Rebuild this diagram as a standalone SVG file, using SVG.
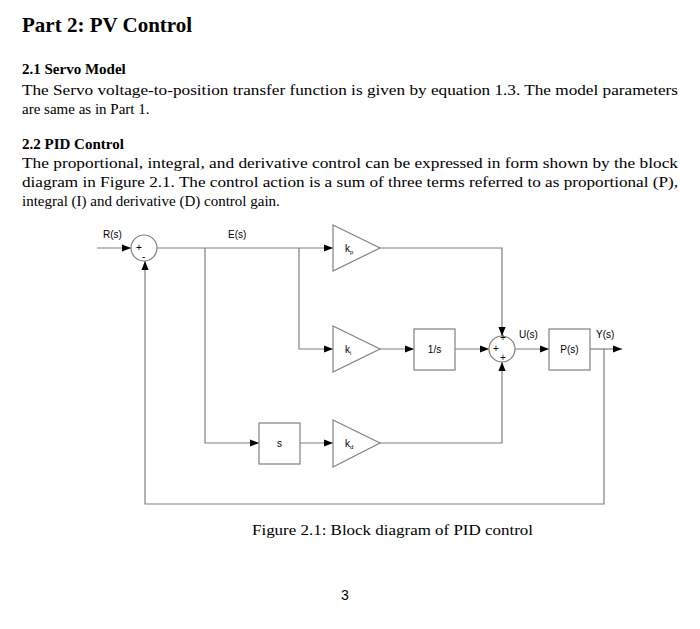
<svg xmlns="http://www.w3.org/2000/svg" width="700" height="629" viewBox="0 0 700 629">
<defs>
<marker id="a" viewBox="0 0 10 10" refX="10" refY="5" markerWidth="9" markerHeight="9" markerUnits="userSpaceOnUse" orient="auto"><path d="M0,1 L10,5 L0,9 z" fill="#000"/></marker>
</defs>
<style>
.t{font-family:"Liberation Serif",serif;fill:#000}
.h{font-weight:bold}
.d{font-family:"Liberation Sans",Arial,sans-serif;font-size:10px;fill:#000}
.s{fill:#fff;stroke:#808080;stroke-width:1.2}
.c path{fill:none;stroke:#808080;stroke-width:1.2}
</style>
<rect width="700" height="629" fill="#fff"/>
<text class="t h" x="22" y="32" font-size="21">Part 2:  PV Control</text>
<text class="t h" x="22" y="74" font-size="15">2.1 Servo Model</text>
<text class="t" x="22" y="95" font-size="15" textLength="656" lengthAdjust="spacingAndGlyphs">The Servo voltage-to-position transfer function is given by equation 1.3. The model parameters</text>
<text class="t" x="22" y="114" font-size="15">are same as in Part 1.</text>
<text class="t h" x="22" y="149" font-size="15">2.2 PID Control</text>
<text class="t" x="22" y="168" font-size="15" textLength="656" lengthAdjust="spacingAndGlyphs">The proportional, integral, and derivative control can be expressed in form shown by the block</text>
<text class="t" x="22" y="187" font-size="15" textLength="656" lengthAdjust="spacingAndGlyphs">diagram in Figure 2.1. The control action is a sum of three terms referred to as proportional (P),</text>
<text class="t" x="22" y="206" font-size="15">integral (I) and derivative (D) control gain.</text>

<g class="c" id="connectors">
<path d="M97,248 H131" marker-end="url(#a)"/>
<path d="M157,248 H333" marker-end="url(#a)"/>
<path d="M299,248 V349 H333" marker-end="url(#a)"/>
<path d="M205,248 V443 H259" marker-end="url(#a)"/>
<path d="M300,443 H333" marker-end="url(#a)"/>
<path d="M380,248 H502 V336" marker-end="url(#a)"/>
<path d="M380,349 H414" marker-end="url(#a)"/>
<path d="M455,349 H489" marker-end="url(#a)"/>
<path d="M380,443 H502 V362" marker-end="url(#a)"/>
<path d="M515,349 H549" marker-end="url(#a)"/>
<path d="M590,349 H622" marker-end="url(#a)"/>
<path d="M604,349 V504 H145 V261" marker-end="url(#a)"/>
</g>
<g id="sum1"><circle class="s" cx="144" cy="248" r="13"/><text class="d" x="136" y="251" font-size="7">+</text><text class="d" x="142" y="260" font-size="7">-</text></g>
<g id="kp"><path class="s" d="M333,225 L380,248 L333,271 z"/><text class="d" x="345" y="252">k<tspan font-size="6" dy="2">p</tspan></text></g>
<g id="ki"><path class="s" d="M333,326 L380,349 L333,372 z"/><text class="d" x="345" y="353">k<tspan font-size="6" dy="2">i</tspan></text></g>
<g id="kd"><path class="s" d="M333,420 L380,443 L333,467 z"/><text class="d" x="345" y="447">k<tspan font-size="6" dy="2">d</tspan></text></g>
<g id="integ"><rect class="s" x="414" y="329" width="41" height="41"/><text class="d" x="434.5" y="353" text-anchor="middle">1/s</text></g>
<g id="deriv"><rect class="s" x="259" y="423" width="41" height="41"/><text class="d" x="279.5" y="447" text-anchor="middle">s</text></g>
<g id="sum2"><circle class="s" cx="502" cy="349" r="13"/><text class="d" x="493" y="352" font-size="7">+</text><text class="d" x="500" y="341" font-size="7">+</text><text class="d" x="500" y="361" font-size="7">+</text></g>
<g id="plant"><rect class="s" x="549" y="329" width="41" height="41"/><text class="d" x="569.5" y="353" text-anchor="middle">P(s)</text></g>
<text class="d" x="103" y="238">R(s)</text>
<text class="d" x="228" y="238">E(s)</text>
<text class="d" x="519" y="338">U(s)</text>
<text class="d" x="596" y="338">Y(s)</text>
<text class="t" x="252" y="535" font-size="15" textLength="281" lengthAdjust="spacingAndGlyphs">Figure 2.1: Block diagram of PID control</text>
<text x="341" y="600" font-family="Liberation Sans,sans-serif" font-size="14">3</text>
</svg>
